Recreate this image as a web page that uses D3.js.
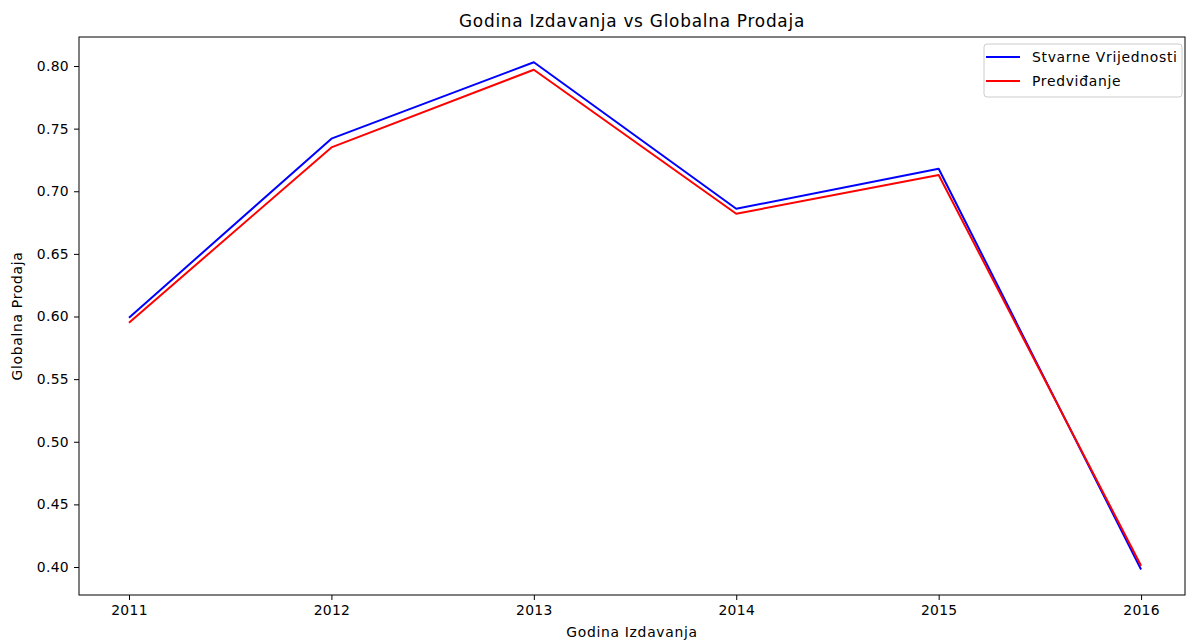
<!DOCTYPE html>
<html><head><meta charset="utf-8">
<script src="https://cdn.jsdelivr.net/npm/d3@7"></script>
<style>body{margin:0;background:#fff}svg{display:block;font-family:"DejaVu Sans",sans-serif}</style>
</head><body>
<script>
const years = [2011, 2012, 2013, 2014, 2015, 2016];
const actual = [0.599, 0.742, 0.803, 0.686, 0.718, 0.398];
const predicted = [0.595, 0.735, 0.797, 0.682, 0.713, 0.401];
const yTicks = [0.40, 0.45, 0.50, 0.55, 0.60, 0.65, 0.70, 0.75, 0.80];
const seriesNames = ["Stvarne Vrijednosti", "Predviđanje"];
const colors = ["#0000ff", "#ff0000"];

const W = 1187, H = 641;
const L = 79, R = 1185, T = 37, B = 595;
const svg = d3.select("body").append("svg").attr("width", W).attr("height", H);
const x = d3.scaleLinear().domain([2010.753, 2016.217]).range([L, R]);
const y = d3.scaleLinear().domain([0.40, 0.80]).range([567, 66]);

const gx = svg.append("g").attr("transform", `translate(0,${B})`)
  .call(d3.axisBottom(x).tickValues(years).tickFormat(d3.format("d")).tickSize(5).tickPadding(5));
const gy = svg.append("g").attr("transform", `translate(${L},0)`)
  .call(d3.axisLeft(y).tickValues(yTicks).tickFormat(d3.format(".2f")).tickSize(5).tickPadding(5));
[gx, gy].forEach(g => {
  g.select(".domain").remove();
  g.selectAll("text").attr("font-size", "13.9px").attr("fill", "#000").attr("font-family", "DejaVu Sans")
    .attr("letter-spacing", "0.3px");
  g.selectAll("line").attr("stroke", "#000").attr("stroke-width", 1);
});

const line = d3.line().x((d, i) => x(years[i])).y(d => y(d));
[actual, predicted].forEach((s, k) => {
  svg.append("path").datum(s).attr("d", line).attr("fill", "none")
    .attr("stroke", colors[k]).attr("stroke-width", 2).attr("stroke-linejoin", "round");
});

svg.append("rect").attr("x", L).attr("y", T).attr("width", R - L).attr("height", B - T)
  .attr("fill", "none").attr("stroke", "#000").attr("stroke-width", 1);

svg.append("text").attr("x", (L + R) / 2).attr("y", 27).attr("text-anchor", "middle")
  .attr("font-size", "16.9px").attr("letter-spacing", "0.75px").text("Godina Izdavanja vs Globalna Prodaja");
svg.append("text").attr("x", (L + R) / 2).attr("y", 637).attr("text-anchor", "middle")
  .attr("font-size", "13.9px").attr("letter-spacing", "0.7px").text("Godina Izdavanja");
svg.append("text").attr("transform", `translate(22,${(T + B) / 2}) rotate(-90)`).attr("text-anchor", "middle")
  .attr("font-size", "13.9px").attr("letter-spacing", "0.7px").text("Globalna Prodaja");

const lg = svg.append("g");
lg.append("rect").attr("x", 984).attr("y", 44).attr("width", 198).attr("height", 53).attr("rx", 3)
  .attr("fill", "#fff").attr("fill-opacity", 0.8).attr("stroke", "#ccc").attr("stroke-width", 1);
seriesNames.forEach((n, k) => {
  const yy = 57 + k * 24;
  lg.append("line").attr("x1", 986).attr("x2", 1020).attr("y1", yy).attr("y2", yy)
    .attr("stroke", colors[k]).attr("stroke-width", 2);
  lg.append("text").attr("x", 1032).attr("y", yy + 5).attr("font-size", "13.9px")
    .attr("letter-spacing", "0.7px").text(n);
});
</script>
</body></html>
